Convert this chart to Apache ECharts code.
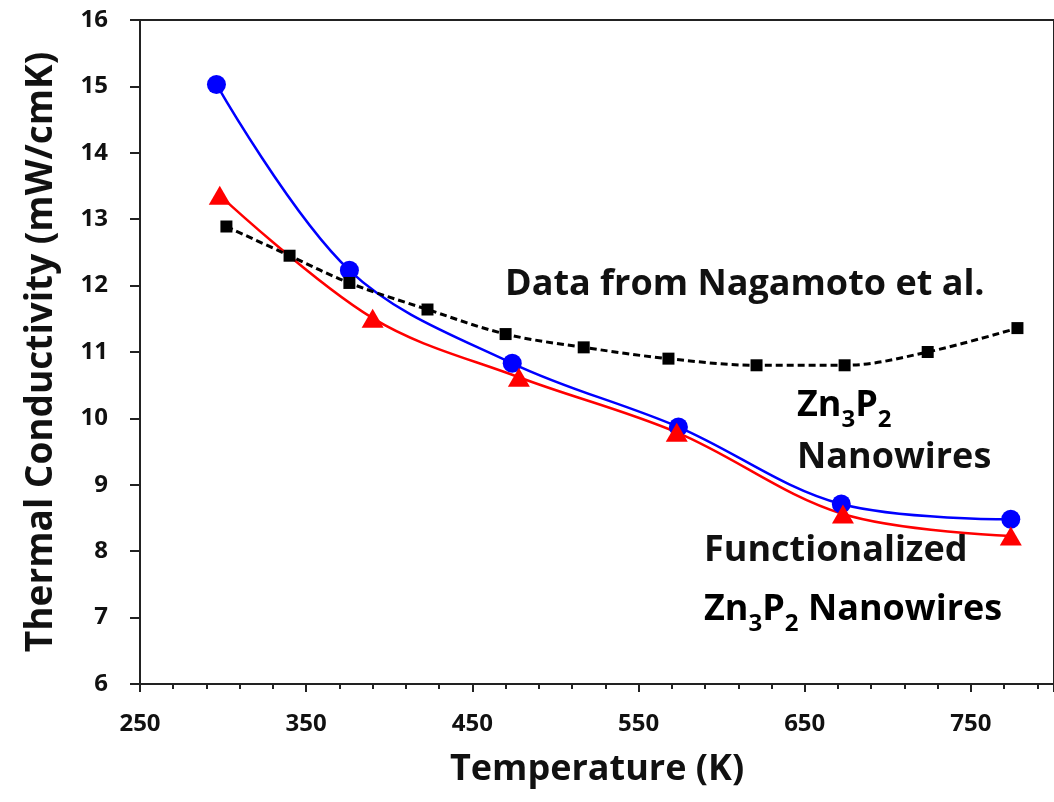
<!DOCTYPE html>
<html style="height: 100%">
<head>
    <meta charset="utf-8">
</head>
<body style="height: 100%; margin: 0; background: #fff">
    <div id="container" style="width: 1054px; height: 802px"></div>
    <script src="https://cdn.jsdelivr.net/npm/echarts@6/dist/echarts.min.js"></script>
    <script type="text/javascript">
        // Zn3P2 nanowires (blue circles)
        var nwTemp = [296, 376, 474, 574, 672, 774];
        var nwK = [15.03, 12.23, 10.83, 9.87, 8.71, 8.48];
        // functionalized Zn3P2 nanowires (red triangles)
        var fnTemp = [298, 390, 478, 573, 673, 774];
        var fnK = [13.36, 11.51, 10.62, 9.79, 8.56, 8.23];
        // Nagamoto et al. (black squares, dashed)
        var ngTemp = [302, 340, 376, 423, 470, 517, 568, 621, 674, 724, 778];
        var ngK = [12.89, 12.45, 12.04, 11.64, 11.27, 11.07, 10.90, 10.80, 10.80, 11.00, 11.36];

        function pairs(xs, ys) {
            return xs.map(function (x, i) { return [x, ys[i]]; });
        }

        var font = '"Open Sans", Lato, sans-serif';
        var dom = document.getElementById('container');
        var myChart = echarts.init(dom);

        var sub = { fontSize: 24, fontWeight: 'bold', fontFamily: font, color: '#111', verticalAlign: 'bottom', padding: [0, 0, -8, 0] };
        var big = { fontSize: 36, fontWeight: 'bold', fontFamily: font, color: '#111' };
        var noteFont = 'bold 36px ' + font;

        var option = {
            backgroundColor: '#fff',
            animation: false,
            grid: {
                left: 140, top: 20, right: -3, bottom: 118,
                show: true, borderColor: '#222', borderWidth: 2
            },
            xAxis: {
                type: 'value',
                min: 250, max: 800, interval: 100,
                name: 'Temperature (K)',
                nameLocation: 'middle',
                nameGap: 68,
                nameTextStyle: { fontSize: 36, fontWeight: 'bold', fontFamily: font, color: '#111' },
                axisLine: { lineStyle: { color: '#222', width: 2 } },
                axisTick: { length: 8, lineStyle: { color: '#222', width: 2 } },
                minorTick: { show: true, splitNumber: 5, length: 5, lineStyle: { color: '#222', width: 2 } },
                axisLabel: { margin: 28, fontSize: 24, fontWeight: 'bold', fontFamily: font, color: '#111', showMaxLabel: false },
                splitLine: { show: false }
            },
            yAxis: {
                type: 'value',
                min: 6, max: 16, interval: 1,
                name: 'Thermal Conductivity (mW/cmK)',
                nameLocation: 'middle',
                nameGap: 80,
                nameTextStyle: { fontSize: 37, fontWeight: 'bold', fontFamily: font, color: '#111' },
                axisLine: { lineStyle: { color: '#222', width: 2 } },
                axisTick: { length: 10, lineStyle: { color: '#222', width: 2 } },
                axisLabel: { margin: 32, fontSize: 24, fontWeight: 'bold', fontFamily: font, color: '#111' },
                splitLine: { show: false }
            },
            series: [{
                name: 'Zn3P2 Nanowires',
                type: 'line',
                smooth: 0.35,
                symbol: 'circle',
                symbolSize: 19,
                itemStyle: { color: '#0000ff' },
                lineStyle: { color: '#0000ff', width: 2.5 },
                data: pairs(nwTemp, nwK)
            }, {
                name: 'Functionalized Zn3P2 Nanowires',
                type: 'line',
                smooth: 0.35,
                symbol: 'triangle',
                symbolSize: [22, 19],
                itemStyle: { color: '#ff0000' },
                lineStyle: { color: '#ff0000', width: 2.5 },
                data: pairs(fnTemp, fnK)
            }, {
                name: 'Nagamoto et al.',
                type: 'line',
                smooth: 0.35,
                symbol: 'rect',
                symbolSize: 12,
                itemStyle: { color: '#000' },
                lineStyle: { color: '#000', width: 3, type: [7, 4] },
                data: pairs(ngTemp, ngK)
            }],
            graphic: [{
                type: 'text', left: 505, top: 267,
                style: { text: 'Data from Nagamoto et al.', font: noteFont, fill: '#111' }
            }, {
                type: 'text', left: 797, top: 388,
                style: {
                    text: '{b|Zn}{s|3}{b|P}{s|2}',
                    rich: { b: big, s: sub }
                }
            }, {
                type: 'text', left: 797, top: 440,
                style: { text: 'Nanowires', font: noteFont, fill: '#111' }
            }, {
                type: 'text', left: 704, top: 533,
                style: { text: 'Functionalized', font: noteFont, fill: '#111' }
            }, {
                type: 'text', left: 704, top: 592,
                style: {
                    text: '{b|Zn}{s|3}{b|P}{s|2}{b| Nanowires}',
                    rich: { b: big, s: sub }
                }
            }]
        };
        myChart.setOption(option);
    </script>
</body>
</html>
